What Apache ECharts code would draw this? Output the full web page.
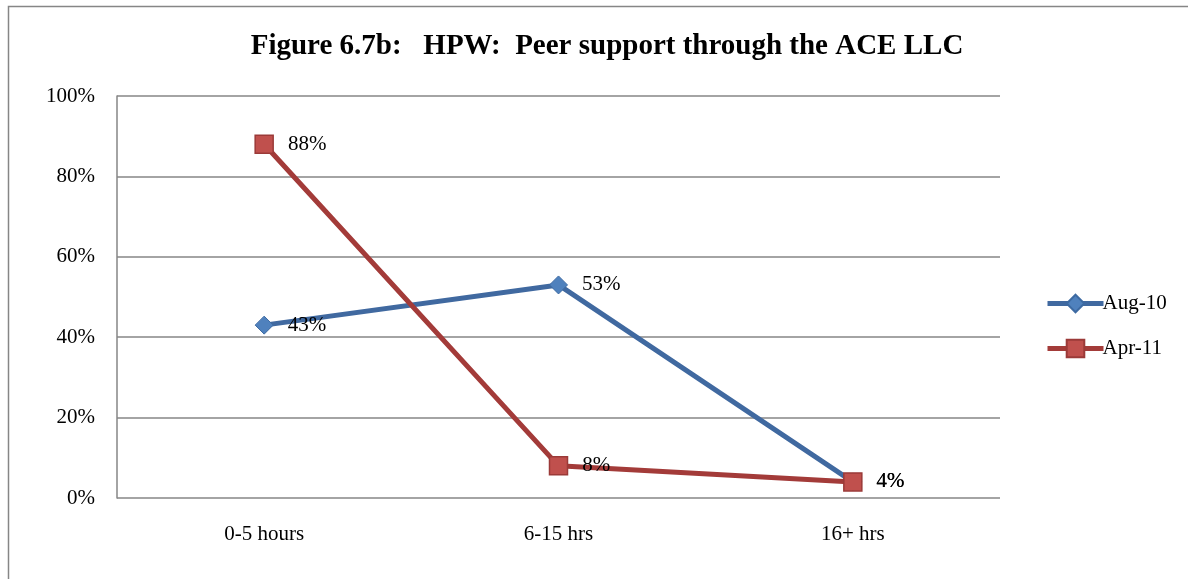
<!DOCTYPE html>
<html><head><meta charset="utf-8">
<script src="https://cdn.jsdelivr.net/npm/echarts@6/dist/echarts.min.js"></script>
<style>html,body{margin:0;padding:0;background:#fff}#c{width:1188px;height:579px}</style>
</head><body><div id="c"></div>
<script>
const categories = ['0-5 hours', '6-15 hrs', '16+ hrs'];
const aug10 = [43, 53, 4];
const apr11 = [88, 8, 4];
const yTicks = [0, 20, 40, 60, 80, 100];
const seriesNames = ['Aug-10', 'Apr-11'];
const titleText = 'Figure 6.7b:   HPW:  Peer support through the ACE LLC';

const font = 'Liberation Serif';
const chart = echarts.init(document.getElementById('c'));
const labelCfg = {
  show: true, position: 'right', distance: 14,
  formatter: p => p.value + '%',
  fontFamily: font, fontSize: 21, color: '#000'
};
chart.setOption({
  animation: false,
  graphic: [{ type: 'rect', shape: { x: 8.5, y: 6.5, width: 1200, height: 600 },
    style: { fill: 'none', stroke: '#868686', lineWidth: 1.5 } }],
  title: { text: titleText, left: 602, top: 27, textAlign: 'center',
    textStyle: { fontFamily: font, fontSize: 29, fontWeight: 'bold', color: '#000' } },
  legend: {
    orient: 'vertical', left: 1040, top: 288, itemWidth: 56, itemHeight: 22, itemGap: 24,
    lineStyle: { width: 5 },
    textStyle: { fontFamily: font, fontSize: 21, color: '#000', padding: [0, 0, 0, -6] },
    data: seriesNames
  },
  grid: { left: 117, right: 188, top: 96, bottom: 81 },
  xAxis: {
    type: 'category', data: categories, boundaryGap: true,
    axisLine: { show: false }, axisTick: { show: false },
    axisLabel: { fontFamily: font, fontSize: 21, color: '#000', margin: 26 }
  },
  yAxis: {
    type: 'value', min: 0, max: 100, interval: 20,
    axisLine: { show: true, lineStyle: { color: '#868686', width: 1.5 } },
    axisTick: { show: false },
    splitLine: { lineStyle: { color: '#868686', width: 1.5 } },
    axisLabel: { fontFamily: font, fontSize: 21, color: '#000', margin: 22,
      formatter: v => yTicks.includes(v) ? v + '%' : '' }
  },
  series: [
    { name: seriesNames[0], type: 'line', data: aug10, symbol: 'diamond', symbolSize: 18,
      lineStyle: { color: '#4069A0', width: 5 },
      itemStyle: { color: '#4F81BD', borderColor: '#3D6AA2', borderWidth: 1 },
      label: labelCfg },
    { name: seriesNames[1], type: 'line', data: apr11, symbol: 'rect', symbolSize: 18,
      lineStyle: { color: '#A33B39', width: 5 },
      itemStyle: { color: '#C0504D', borderColor: '#9B3A38', borderWidth: 1.5 },
      label: labelCfg }
  ]
});
</script></body></html>
